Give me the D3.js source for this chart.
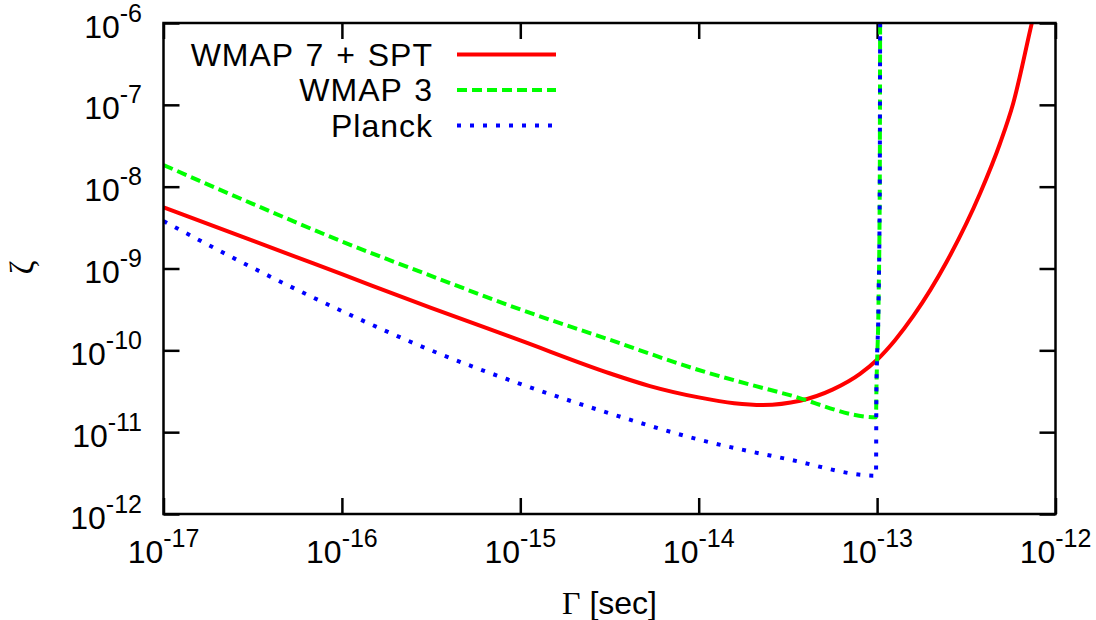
<!DOCTYPE html>
<html>
<head>
<meta charset="utf-8">
<script src="https://cdn.jsdelivr.net/npm/d3@7"></script>
<style>
  body { margin: 0; background: #fff; }
  svg { display: block; }
</style>
</head>
<body>
<svg id="chart" width="1096" height="620"></svg>
<script>
// Decade ticks and their exponent labels
const xTicks = [1e-17, 1e-16, 1e-15, 1e-14, 1e-13, 1e-12];
const xTickExp = ["-17", "-16", "-15", "-14", "-13", "-12"];
const yTicks = [1e-12, 1e-11, 1e-10, 1e-9, 1e-8, 1e-7, 1e-6];
const yTickExp = ["-12", "-11", "-10", "-9", "-8", "-7", "-6"];

const seriesNames = ["WMAP 7 + SPT", "WMAP 3", "Planck"];
const seriesColors = ["#ff0000", "#00ff00", "#0000ff"];
const seriesDash = [null, "10,5", "4,9"];

// Γ [sec] vs ζ constraint curves
const wmap7spt = [
  [1.00e-17, 5.58e-9], [3.16e-17, 2.19e-9], [1.00e-16, 8.51e-10],
  [3.16e-16, 3.31e-10], [1.00e-15, 1.32e-10], [3.16e-15, 5.25e-11],
  [5.33e-15, 3.66e-11], [1.00e-14, 2.66e-11], [1.58e-14, 2.26e-11],
  [2.29e-14, 2.15e-11], [3.70e-14, 2.42e-11], [5.66e-14, 3.33e-11],
  [8.02e-14, 5.15e-11], [1.00e-13, 7.67e-11], [1.26e-13, 1.33e-10],
  [1.60e-13, 2.65e-10], [2.45e-13, 1.20e-9], [3.78e-13, 8.30e-9],
  [4.89e-13, 3.39e-8], [5.79e-13, 1.04e-7], [7.36e-13, 9.91e-7],
  [7.94e-13, 2.00e-6]
];
const wmap3 = [
  [1.00e-17, 1.84e-8], [3.16e-17, 6.17e-9], [1.00e-16, 2.14e-9],
  [3.16e-16, 8.13e-10], [1.00e-15, 3.16e-10], [3.16e-15, 1.35e-10],
  [1.00e-14, 5.75e-11], [3.16e-14, 2.88e-11], [9.86e-14, 1.52e-11],
  [9.91e-14, 3.16e-11], [1.019e-13, 3.98e-10], [1.035e-13, 1.00e-8],
  [1.040e-13, 1.00e-6], [1.041e-13, 2.00e-6]
];
const planck = [
  [1.00e-17, 3.80e-9], [3.16e-17, 1.02e-9], [1.00e-16, 3.02e-10],
  [3.16e-16, 1.00e-10], [1.00e-15, 3.89e-11], [3.16e-15, 1.70e-11],
  [1.00e-14, 8.13e-12], [3.16e-14, 4.68e-12], [9.86e-14, 2.94e-12],
  [9.91e-14, 3.16e-11], [1.019e-13, 3.98e-10], [1.035e-13, 1.00e-8],
  [1.040e-13, 1.00e-6], [1.041e-13, 2.00e-6]
];
const seriesData = [wmap7spt, wmap3, planck];

const sans = "'Liberation Sans', Arial, Helvetica, sans-serif";
const serif = "'Liberation Serif', 'Times New Roman', 'DejaVu Serif', serif";

const svg = d3.select("#chart");
const plotLeft = 163.5, plotRight = 1055.5, plotTop = 23, plotBottom = 514;

const x = d3.scaleLog().domain([1e-17, 1e-12]).range([plotLeft, plotRight]);
const y = d3.scaleLog().domain([1e-12, 1e-6]).range([plotBottom, plotTop]);

svg.append("defs").append("clipPath").attr("id", "plotClip")
  .append("rect")
  .attr("x", plotLeft).attr("y", plotTop)
  .attr("width", plotRight - plotLeft).attr("height", plotBottom - plotTop);

// Inward mirror ticks on all four sides
function styleAxis(g) {
  g.select(".domain").remove();
  g.selectAll(".tick line").attr("stroke", "#000").attr("stroke-width", 2.5);
  g.selectAll(".tick text").remove();
}
svg.append("g").attr("transform", `translate(0,${plotBottom})`)
  .call(d3.axisBottom(x).tickValues(xTicks).tickSize(-16).tickFormat(() => ""))
  .call(styleAxis);
svg.append("g").attr("transform", `translate(0,${plotTop})`)
  .call(d3.axisTop(x).tickValues(xTicks).tickSize(-16).tickFormat(() => ""))
  .call(styleAxis);
svg.append("g").attr("transform", `translate(${plotLeft},0)`)
  .call(d3.axisLeft(y).tickValues(yTicks).tickSize(-16).tickFormat(() => ""))
  .call(styleAxis);
svg.append("g").attr("transform", `translate(${plotRight},0)`)
  .call(d3.axisRight(y).tickValues(yTicks).tickSize(-16).tickFormat(() => ""))
  .call(styleAxis);

// Power-of-ten tick labels
function powerLabel(sel) {
  sel.append("tspan").text("10");
  sel.append("tspan").attr("dy", -16).attr("font-size", 25).text(d => d.exp);
}
svg.append("g").selectAll("text")
  .data(xTicks.map((v, i) => ({ v, exp: xTickExp[i] })))
  .join("text")
  .attr("x", d => x(d.v)).attr("y", 563)
  .attr("text-anchor", "middle")
  .attr("font-family", sans).attr("font-size", 32).attr("fill", "#000")
  .call(powerLabel);
svg.append("g").selectAll("text")
  .data(yTicks.map((v, i) => ({ v, exp: yTickExp[i] })))
  .join("text")
  .attr("x", 142).attr("y", d => y(d.v) + 14.5)
  .attr("text-anchor", "end")
  .attr("font-family", sans).attr("font-size", 32).attr("fill", "#000")
  .call(powerLabel);

// Axis titles
const xt = svg.append("text")
  .attr("x", (plotLeft + plotRight) / 2).attr("y", 614)
  .attr("text-anchor", "middle")
  .attr("font-size", 32).attr("fill", "#000");
xt.append("tspan").attr("font-family", serif).text("Γ");
xt.append("tspan").attr("font-family", sans).text(" [sec]");

svg.append("text")
  .attr("transform", `translate(33,${(plotTop + plotBottom) / 2 - 1}) rotate(-90)`)
  .attr("text-anchor", "middle")
  .attr("font-family", serif).attr("font-size", 34).attr("fill", "#000")
  .text("ζ");

// Curves
const line = d3.line()
  .x(d => x(d[0]))
  .y(d => y(d[1]))
  .curve(d3.curveMonotoneX);

const plot = svg.append("g").attr("clip-path", "url(#plotClip)");
seriesData.forEach((data, i) => {
  plot.append("path")
    .datum(data)
    .attr("fill", "none")
    .attr("stroke", seriesColors[i])
    .attr("stroke-width", 4)
    .attr("stroke-dasharray", seriesDash[i])
    .attr("d", line);
});

// Frame
svg.append("rect")
  .attr("x", plotLeft).attr("y", plotTop)
  .attr("width", plotRight - plotLeft).attr("height", plotBottom - plotTop)
  .attr("fill", "none").attr("stroke", "#000").attr("stroke-width", 2.5);

// Legend
const legend = svg.append("g");
seriesNames.forEach((name, i) => {
  const base = 65.5 + i * 35.5;
  legend.append("text")
    .attr("x", 433).attr("y", base)
    .attr("text-anchor", "end")
    .attr("font-family", sans).attr("font-size", 32).attr("fill", "#000")
    .attr("letter-spacing", 1).attr("word-spacing", 2)
    .text(name);
  legend.append("line")
    .attr("x1", 457).attr("x2", 556)
    .attr("y1", base - 11).attr("y2", base - 11)
    .attr("stroke", seriesColors[i]).attr("stroke-width", 4)
    .attr("stroke-dasharray", seriesDash[i]);
});
</script>
</body>
</html>
